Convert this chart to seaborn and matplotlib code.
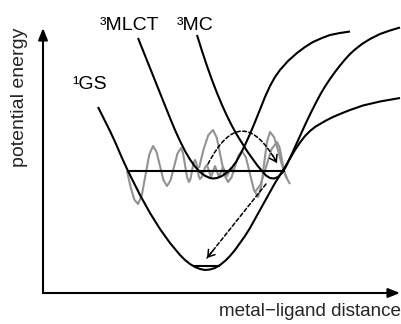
import numpy as np
import pandas as pd
import matplotlib
matplotlib.use("Agg")
import matplotlib.pyplot as plt
import seaborn as sns

# ---- data: r = metal-ligand distance, E = potential energy (arbitrary units) ----
gs_r = [55, 61, 67, 73, 79, 85, 91, 97, 102, 107, 112, 117, 122, 127, 132, 137, 142, 147,
        152, 157, 162, 167, 172, 177, 182, 187, 192, 197, 202, 207, 212, 217, 222, 227,
        232, 237, 242, 247, 252, 257, 262, 267, 272, 277, 283, 290, 297, 307, 320, 337, 357]
gs_E = [186, 174, 162, 149, 135, 122, 110, 98, 89, 80, 72, 64, 57, 50, 44, 38, 33, 29,
        26, 24, 23, 23.5, 25, 28, 32, 37, 43, 50, 57, 65, 74, 83, 92, 101,
        110, 118, 126, 134.5, 143, 150.5, 157, 162, 166, 169, 172.5, 176, 179, 183, 187.5, 191.5, 195]

mlct_r = [95, 102, 107, 112, 117, 122, 127, 132, 137, 142, 147, 152, 157, 162, 167, 170,
          174, 179, 184, 189, 193, 197, 202, 207, 212, 217, 222, 227, 232, 237, 245, 254,
          262, 270, 279, 287, 297, 307]
mlct_E = [255, 237.5, 225, 212.5, 200, 187.5, 175, 163, 152, 142, 133.5, 126.5, 121, 117.2, 115, 114.5,
          115, 117, 120.5, 125.5, 131, 138, 148, 159, 171, 183.5, 196, 207, 216, 223, 232, 240,
          246, 251, 255, 258, 260, 261.5]

mc_r = [154, 159, 164, 169, 174, 179, 184, 189, 194, 199, 204, 209, 214, 219, 223, 227, 231,
        235, 239, 243, 247, 252, 257, 262, 267, 272, 277, 282, 287, 292, 297, 302, 307, 312,
        319, 327, 337, 347, 357]
mc_E = [258, 242, 227, 213, 200, 188, 177, 167, 158, 150, 142, 135, 128, 122, 117.5, 115, 114.5,
        116, 120, 126.5, 135, 146, 157, 168, 178.5, 188.5, 198, 206.5, 214, 221, 227.5, 233.5, 239, 243.5,
        249, 254, 259, 262.5, 265.5]

level_r = [85, 242]
level_E = [122, 122]
gs_level_r = [150, 177]
gs_level_E = [27.5, 27.5]

wave1_r = [84, 87.7, 91.3, 95, 98.75, 102.5, 106.25, 110, 113.5, 117, 120.5, 124, 127.5, 131,
           134.5, 138, 140, 142, 144, 146, 147.5, 149, 150.5, 152, 153.25, 154.5, 155.75, 157,
           158.75, 160.5, 162.25, 164, 166, 168, 170, 172, 174, 176, 178, 180, 182, 184, 186, 188, 191]
wave1_E = [122, 105.5, 93.4, 89, 97.5, 118, 138.5, 147, 141.2, 127, 112.8, 107, 112.5, 126,
           139.5, 145, 140, 128, 116, 111, 114.2, 122, 129.8, 133, 130.2, 123.5, 116.8, 114,
           116, 121, 126, 128, 122, 116, 121.5, 127, 121.5, 116, 121, 126, 121.5, 117, 121, 125, 120]

wave2_r = [156, 160.7, 165.3, 170, 173.75, 177.5, 181.25, 185, 188.5, 192, 195.5, 199, 203, 207,
           211, 215, 218, 221, 224, 227, 231, 235, 239, 243, 247]
wave2_E = [125, 144, 157.9, 163, 155.4, 137, 118.6, 111, 115.5, 126.5, 137.5, 142, 135.3, 119,
           102.7, 96, 105.5, 128.5, 151.5, 161, 156, 143, 128, 116, 109]

wave3_r = [212, 217.5, 223, 228.5, 234, 236.5, 239, 241.5, 244]
wave3_E = [101, 108.3, 126, 143.7, 151, 145.7, 133, 120.3, 115]

arc_start, arc_end, arc_rad = (165, 129), (234, 130), -0.94
relax_start, relax_end = (223, 109), (164, 35)

state_labels = ["\u00b9GS", "\u00b3MLCT", "\u00b3MC"]
label_r = [29, 57, 134]
label_E = [204, 263, 263]

x_title = "metal\u2212ligand distance"
y_title = "potential energy"

# ---- drawing ----
sns.set_style("white")
plt.rcParams["font.family"] = ["Liberation Sans", "DejaVu Sans"]

fig = plt.figure(figsize=(4.02, 3.24), dpi=100)
ax = fig.add_axes([43 / 402, 31 / 324, 357 / 402, 265 / 324])
ax.set_xlim(0, 357)
ax.set_ylim(0, 265)
ax.axis("off")

grey = "#929292"
for wr, we in [(wave1_r, wave1_E), (wave2_r, wave2_E), (wave3_r, wave3_E)]:
    sns.lineplot(x=wr, y=we, sort=False, estimator=None, color=grey, lw=1.5, ax=ax)

for cr, ce in [(gs_r, gs_E), (mlct_r, mlct_E), (mc_r, mc_E), (level_r, level_E), (gs_level_r, gs_level_E)]:
    sns.lineplot(x=cr, y=ce, sort=False, estimator=None, color="black", lw=1.5, ax=ax)

for ln in ax.lines:
    ln.set_clip_on(False)
    ln.set_solid_capstyle("butt")

# axis arrows
axis_kw = dict(arrowstyle="-|>,head_length=0.7,head_width=0.28", color="black", lw=1.5,
               shrinkA=0, shrinkB=0)
ax.annotate("", xy=(1, 0), xytext=(0, 0), xycoords="axes fraction", arrowprops=axis_kw)
ax.annotate("", xy=(0, 1), xytext=(0, 0), xycoords="axes fraction", arrowprops=axis_kw)

# dashed arrows (body dashed, head solid)
dash_kw = dict(arrowstyle="-", color="black", lw=1.1, linestyle=(0, (2.5, 1.6)),
               shrinkA=0, shrinkB=0)
head_kw = dict(arrowstyle="->,head_length=0.45,head_width=0.3", color="black", lw=1.1,
               shrinkA=0, shrinkB=0)
ax.annotate("", xy=arc_end, xytext=arc_start,
            arrowprops=dict(dash_kw, connectionstyle=f"arc3,rad={arc_rad}"))
cx = (arc_start[0] + arc_end[0]) / 2 + arc_rad * (arc_end[1] - arc_start[1])
cy = (arc_start[1] + arc_end[1]) / 2 - arc_rad * (arc_end[0] - arc_start[0])
ax.annotate("", xy=arc_end,
            xytext=(arc_end[0] - 0.12 * (arc_end[0] - cx), arc_end[1] - 0.12 * (arc_end[1] - cy)),
            arrowprops=head_kw)
ax.annotate("", xy=relax_end, xytext=relax_start, arrowprops=dash_kw)
ax.annotate("", xy=relax_end,
            xytext=(relax_end[0] + 0.1 * (relax_start[0] - relax_end[0]),
                    relax_end[1] + 0.1 * (relax_start[1] - relax_end[1])),
            arrowprops=head_kw)

for t, r, e in zip(state_labels, label_r, label_E):
    ax.text(r, e, t, fontsize=14, ha="left", va="baseline", color="black")

fig.text(401 / 402, 1 - 316 / 324, x_title, fontsize=13.6, ha="right", va="baseline")
fig.text(20 / 402, 1 - 97.5 / 324, y_title, fontsize=14, rotation=90, ha="center", va="center")

fig.savefig("out.png", dpi=100)
